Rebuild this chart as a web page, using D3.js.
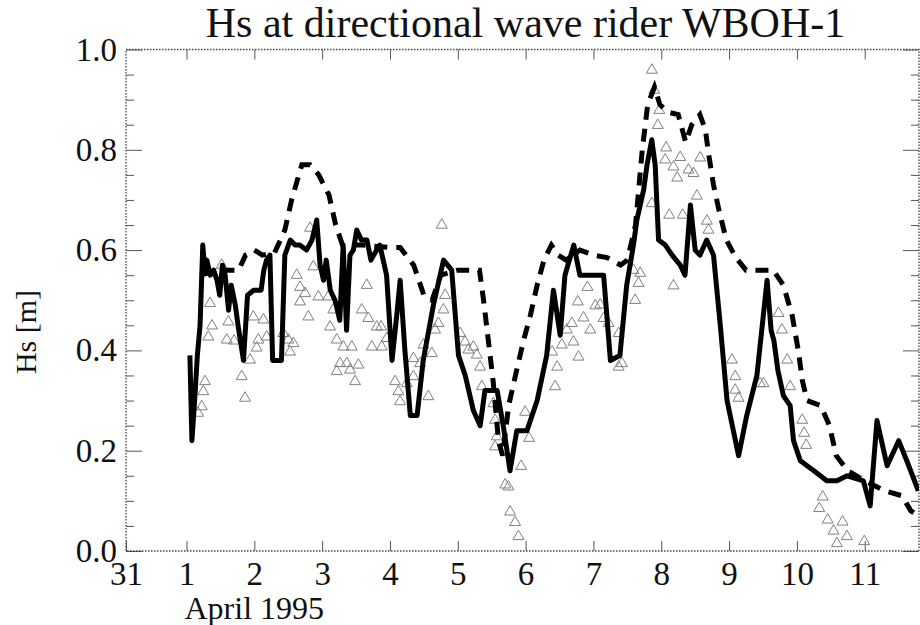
<!DOCTYPE html>
<html>
<head>
<meta charset="utf-8">
<script src="https://cdn.jsdelivr.net/npm/d3@7"></script>
<style>
  body { margin: 0; background: #fff; }
  text { font-family: "Liberation Serif", "Times New Roman", serif; fill: #111; }
</style>
</head>
<body>
<div id="chart"></div>
<script>
// day of April 1995 (31 = Mar 31 -> 0), Hs in metres
const modelHs = [
  [1.05,0.39],[1.08,0.22],[1.12,0.30],[1.16,0.39],[1.20,0.45],[1.24,0.61],[1.27,0.56],[1.30,0.58],
  [1.35,0.55],[1.40,0.56],[1.45,0.54],[1.49,0.51],[1.53,0.57],[1.57,0.55],[1.62,0.48],[1.66,0.53],
  [1.72,0.49],[1.76,0.45],[1.84,0.38],[1.90,0.51],[1.99,0.52],[2.10,0.52],[2.14,0.56],[2.18,0.58],
  [2.23,0.59],[2.27,0.38],[2.40,0.38],[2.45,0.59],[2.53,0.62],[2.60,0.61],[2.67,0.61],[2.77,0.60],
  [2.85,0.62],[2.92,0.66],[2.97,0.57],[3.02,0.54],[3.06,0.58],[3.12,0.52],[3.19,0.50],[3.26,0.46],
  [3.31,0.61],[3.36,0.44],[3.41,0.59],[3.46,0.60],[3.51,0.64],[3.58,0.62],[3.66,0.62],[3.72,0.58],
  [3.76,0.59],[3.85,0.61],[3.90,0.58],[3.95,0.55],[4.03,0.38],[4.10,0.47],[4.15,0.54],[4.22,0.40],
  [4.30,0.27],[4.40,0.27],[4.49,0.38],[4.64,0.49],[4.79,0.58],[4.91,0.56],[5.01,0.39],[5.11,0.35],
  [5.23,0.28],[5.33,0.25],[5.40,0.32],[5.50,0.32],[5.58,0.32],[5.67,0.25],[5.77,0.16],[5.87,0.24],
  [6.02,0.24],[6.17,0.30],[6.31,0.39],[6.41,0.52],[6.51,0.43],[6.58,0.55],[6.71,0.61],[6.80,0.55],
  [6.90,0.55],[7.15,0.55],[7.25,0.38],[7.39,0.39],[7.49,0.53],[7.59,0.61],[7.64,0.66],[7.74,0.72],
  [7.79,0.77],[7.86,0.82],[7.91,0.77],[7.96,0.62],[8.06,0.61],[8.16,0.59],[8.28,0.57],[8.35,0.55],
  [8.43,0.69],[8.50,0.60],[8.57,0.59],[8.67,0.62],[8.77,0.59],[8.87,0.45],[8.97,0.30],[9.14,0.19],
  [9.26,0.27],[9.41,0.35],[9.56,0.54],[9.62,0.44],[9.66,0.42],[9.72,0.36],[9.80,0.31],[9.90,0.29],
  [9.95,0.22],[10.05,0.18],[10.15,0.17],[10.25,0.16],[10.44,0.14],[10.59,0.14],[10.74,0.15],[10.98,0.14],
  [11.08,0.09],[11.18,0.26],[11.33,0.17],[11.50,0.22],[11.62,0.18],[11.79,0.12]
]

const swanHs = [
  [1.20,0.55],[1.50,0.56],[1.77,0.56],[1.87,0.59],[2.00,0.60],[2.12,0.59],[2.30,0.595],[2.45,0.64],
  [2.55,0.70],[2.70,0.77],[2.82,0.77],[2.95,0.75],[3.10,0.71],[3.20,0.65],[3.30,0.61],[3.60,0.61],
  [4.00,0.605],[4.15,0.605],[4.35,0.57],[4.50,0.51],[4.62,0.50],[4.75,0.55],[5.00,0.56],[5.32,0.56],
  [5.38,0.50],[5.45,0.42],[5.52,0.34],[5.60,0.22],[5.66,0.19],[5.75,0.29],[5.85,0.35],[5.97,0.42],
  [6.07,0.47],[6.17,0.53],[6.27,0.58],[6.38,0.61],[6.48,0.59],[6.60,0.58],[6.80,0.60],[7.00,0.59],
  [7.20,0.585],[7.40,0.57],[7.50,0.58],[7.62,0.65],[7.72,0.80],[7.80,0.89],[7.90,0.925],[7.98,0.89],
  [8.10,0.875],[8.25,0.87],[8.36,0.815],[8.45,0.85],[8.57,0.87],[8.65,0.84],[8.70,0.79],[8.77,0.73],
  [8.85,0.68],[8.96,0.62],[9.10,0.585],[9.25,0.56],[9.65,0.56],[9.80,0.53],[9.93,0.47],[10.02,0.40],
  [10.08,0.34],[10.15,0.30],[10.35,0.29],[10.48,0.25],[10.58,0.19],[10.75,0.16],[11.00,0.14],[11.30,0.12],
  [11.55,0.11],[11.68,0.08],[11.80,0.07]
]

const buoyHs = [
  [1.170,0.275],[1.224,0.288],[1.248,0.318],[1.273,0.338],[1.347,0.494],[1.322,0.427],[1.376,0.449],
  [1.519,0.570],[1.617,0.457],[1.593,0.421],[1.701,0.419],[1.814,0.348],[1.863,0.305],[1.937,0.381],
  [1.985,0.467],[2.059,0.421],[2.035,0.405],[2.133,0.461],[2.183,0.427],[2.428,0.434],[2.501,0.421],
  [2.527,0.397],[2.575,0.414],[2.625,0.550],[2.674,0.526],[2.748,0.514],[2.674,0.497],[2.796,0.467],
  [2.822,0.644],[2.870,0.567],[2.944,0.507],[3.091,0.507],[3.165,0.481],[3.117,0.447],[3.215,0.421],
  [3.313,0.407],[3.437,0.407],[3.264,0.374],[3.363,0.374],[3.534,0.371],[3.215,0.358],[3.411,0.361],
  [3.485,0.338],[3.658,0.530],[3.584,0.481],[3.681,0.464],[3.805,0.447],[3.869,0.447],[3.732,0.407],
  [3.879,0.407],[3.953,0.424],[4.075,0.338],[4.124,0.318],[4.149,0.298],[4.248,0.334],[4.345,0.384],
  [4.345,0.348],[4.444,0.374],[4.493,0.411],[4.566,0.308],[4.617,0.394],[4.665,0.441],[4.714,0.454],
  [4.788,0.481],[4.813,0.510],[4.764,0.650],[5.034,0.434],[5.108,0.417],[5.156,0.401],[5.230,0.407],
  [5.280,0.391],[5.329,0.367],[5.354,0.328],[5.525,0.294],[5.550,0.261],[5.575,0.228],[5.550,0.208],
  [5.698,0.132],[5.746,0.128],[5.771,0.078],[5.845,0.057],[5.894,0.029],[5.934,0.169],[6.052,0.225],
  [5.993,0.277],[6.435,0.328],[6.391,0.397],[6.465,0.367],[6.534,0.411],[6.608,0.441],[6.681,0.454],
  [6.705,0.417],[6.779,0.387],[6.770,0.497],[6.912,0.526],[6.853,0.465],[6.953,0.441],[7.027,0.489],
  [7.100,0.491],[7.150,0.464],[7.224,0.454],[7.372,0.434],[7.372,0.367],[7.420,0.374],[7.590,0.560],
  [7.689,0.554],[7.664,0.534],[7.615,0.500],[7.861,0.959],[7.897,0.919],[7.971,0.879],[7.949,0.849],
  [8.072,0.804],[8.058,0.780],[8.180,0.766],[8.279,0.785],[8.235,0.744],[8.401,0.760],[8.475,0.753],
  [8.574,0.784],[8.525,0.708],[7.861,0.693],[8.117,0.670],[8.316,0.670],[8.673,0.658],[8.696,0.640],
  [8.180,0.529],[9.041,0.381],[9.090,0.348],[9.090,0.321],[9.139,0.305],[9.457,0.334],[9.507,0.334],
  [9.729,0.474],[9.779,0.441],[9.857,0.381],[9.901,0.328],[10.078,0.261],[10.107,0.235],[10.137,0.211],
  [10.381,0.108],[10.329,0.085],[10.454,0.062],[10.540,0.040],[10.673,0.058],[10.737,0.029],[10.590,0.015],
  [10.992,0.019]
]

const dayStart = 0.108
const dayEnd = 11.80
const dayTicks = [dayStart, 1, 2, 3, 4, 5, 6, 7, 8, 9, 10, 11]
const dayLabels = ["31", "1", "2", "3", "4", "5", "6", "7", "8", "9", "10", "11"]
const hsTicks = [0, 0.2, 0.4, 0.6, 0.8, 1.0]
const hsMinor = d3.range(0, 1.0001, 0.05).filter(v => Math.round(v * 100) % 20 !== 0)

const width = 920
const height = 625
const plotLeft = 126, plotRight = 919, plotTop = 49.5, plotBottom = 551

const x = d3.scaleLinear().domain([dayStart, dayEnd]).range([plotLeft, plotRight])
const y = d3.scaleLinear().domain([0, 1]).range([plotBottom, plotTop])

const svg = d3.select('#chart').append('svg')
    .attr('width', width)
    .attr('height', height)

svg.append('clipPath').attr('id', 'plotclip')
    .append('rect')
    .attr('x', plotLeft).attr('y', plotTop)
    .attr('width', plotRight - plotLeft).attr('height', plotBottom - plotTop)

// title
svg.append('text')
    .attr('x', (plotLeft + plotRight) / 2 + 3)
    .attr('y', 37)
    .attr('text-anchor', 'middle')
    .style('font-size', '42px')
    .text('Hs at directional wave rider WBOH-1')

// axes, ticks point inward like the original
function styleAxis(g) {
    g.select('.domain').remove()
    g.selectAll('.tick line').attr('stroke', '#555').attr('stroke-width', 1)
    g.selectAll('.tick text')
        .style('font-family', '"Liberation Serif", serif')
        .style('font-size', '33px')
        .attr('fill', '#111')
}

svg.append('g')
    .attr('transform', 'translate(0,' + plotBottom + ')')
    .call(d3.axisBottom(x).tickValues(dayTicks)
        .tickFormat((d, i) => dayLabels[i])
        .tickSizeInner(-10).tickSizeOuter(0).tickPadding(11))
    .call(styleAxis)

svg.append('g')
    .attr('transform', 'translate(0,' + plotTop + ')')
    .call(d3.axisTop(x).tickValues(dayTicks.slice(1))
        .tickFormat('').tickSizeInner(-10).tickSizeOuter(0))
    .call(styleAxis)

svg.append('g')
    .attr('transform', 'translate(' + plotLeft + ',0)')
    .call(d3.axisLeft(y).tickValues(hsTicks)
        .tickFormat(d3.format('.1f'))
        .tickSizeInner(-16).tickSizeOuter(0).tickPadding(9))
    .call(styleAxis)

svg.append('g')
    .attr('transform', 'translate(' + plotLeft + ',0)')
    .call(d3.axisLeft(y).tickValues(hsMinor).tickFormat('')
        .tickSizeInner(-8).tickSizeOuter(0))
    .call(styleAxis)

svg.append('g')
    .attr('transform', 'translate(' + plotRight + ',0)')
    .call(d3.axisRight(y).tickValues(hsTicks).tickFormat('')
        .tickSizeInner(-16).tickSizeOuter(0))
    .call(styleAxis)

svg.append('g')
    .attr('transform', 'translate(' + plotRight + ',0)')
    .call(d3.axisRight(y).tickValues(hsMinor).tickFormat('')
        .tickSizeInner(-8).tickSizeOuter(0))
    .call(styleAxis)

// dotted frame
svg.append('rect')
    .attr('x', plotLeft).attr('y', plotTop)
    .attr('width', plotRight - plotLeft).attr('height', plotBottom - plotTop)
    .attr('fill', 'none')
    .attr('stroke', '#444')
    .attr('stroke-width', 1.3)
    .attr('stroke-dasharray', '1.5,1.5')

// axis titles
svg.append('text')
    .attr('transform', 'translate(36,332) rotate(-90)')
    .attr('text-anchor', 'middle')
    .style('font-size', '30px')
    .text('Hs [m]')

svg.append('text')
    .attr('x', x(1) - 2)
    .attr('y', 619)
    .style('font-size', '32px')
    .text('April 1995')

const plot = svg.append('g').attr('clip-path', 'url(#plotclip)')

// buoy observations (open triangles)
plot.selectAll('.obs')
    .data(buoyHs)
    .enter().append('path')
    .attr('class', 'obs')
    .attr('transform', d => 'translate(' + x(d[0]) + ',' + y(d[1]) + ')')
    .attr('d', d3.symbol().type(d3.symbolTriangle).size(52))
    .attr('fill', 'none')
    .attr('stroke', '#808080')
    .attr('stroke-width', 1)

const line = d3.line()
    .x(d => x(d[0]))
    .y(d => y(d[1]))

//dashed series
plot.append('path')
    .datum(swanHs)
    .attr('d', line)
    .attr('fill', 'none')
    .attr('stroke', '#000')
    .attr('stroke-width', 5)
    .attr('stroke-dasharray', '13,9')

// solid series
plot.append('path')
    .datum(modelHs)
    .attr('d', line)
    .attr('fill', 'none')
    .attr('stroke', '#000')
    .attr('stroke-width', 5)
    .attr('stroke-linejoin', 'round')
</script>
</body>
</html>
